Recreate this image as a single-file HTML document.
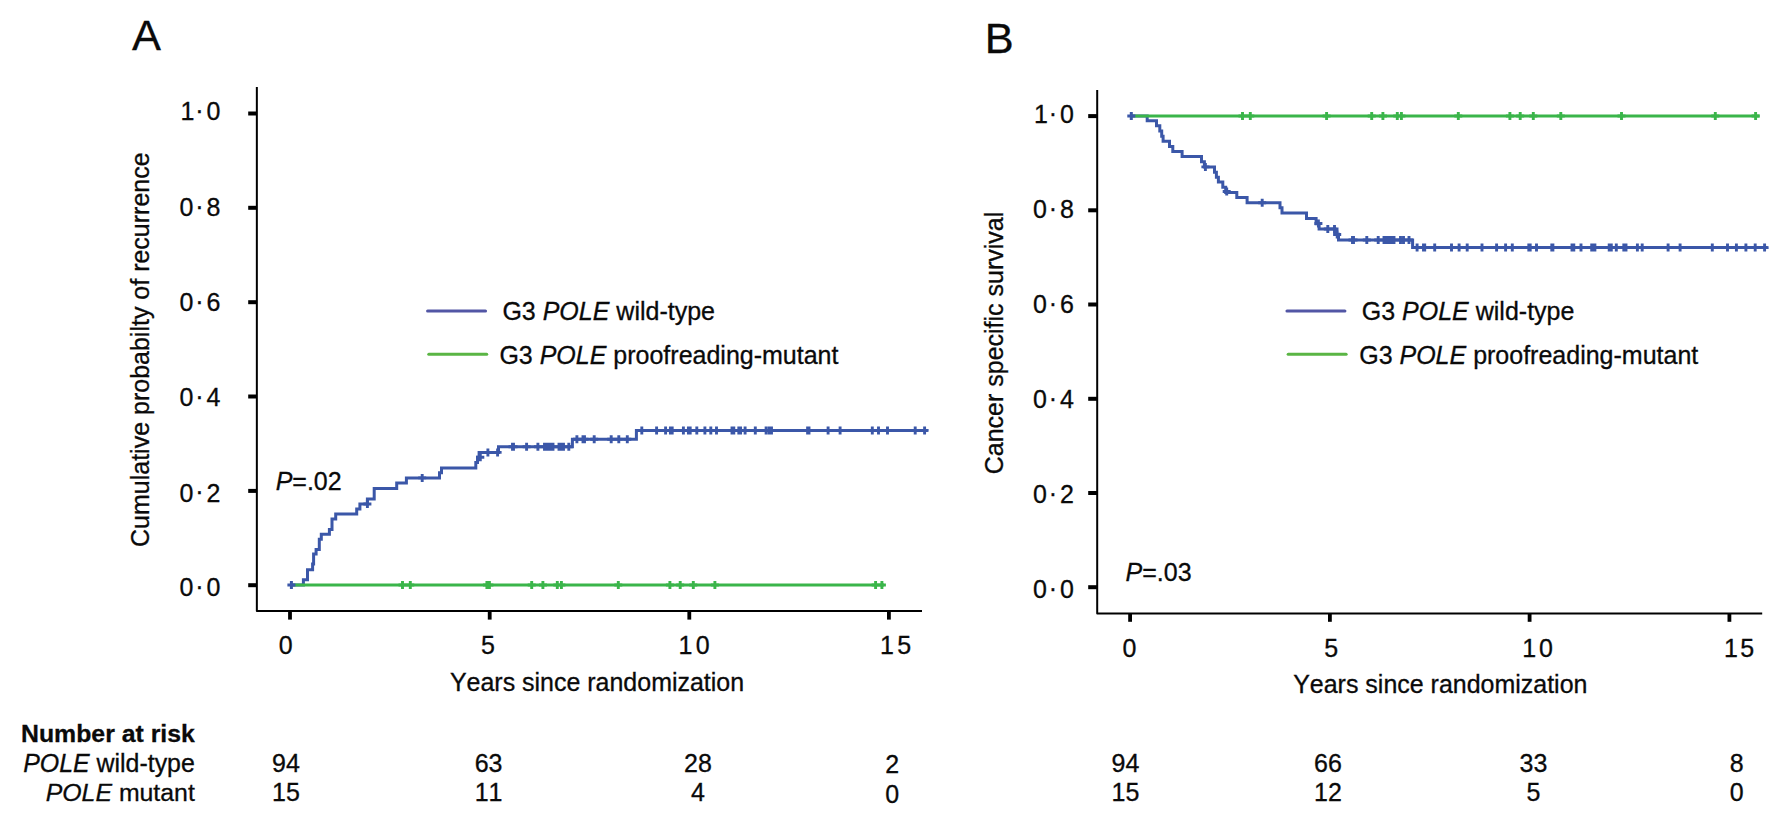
<!DOCTYPE html>
<html lang="en">
<head>
<meta charset="utf-8">
<title>Figure: POLE wild-type vs proofreading-mutant</title>
<style>
html,body{margin:0;padding:0;background:#fff;}
body{width:1791px;height:825px;overflow:hidden;}
svg{display:block;}
svg text{font-family:"Liberation Sans",Arial,Helvetica,sans-serif;fill:#0a0a0a;stroke:#0a0a0a;stroke-width:0.3px;white-space:pre;font-kerning:none;}
</style>
</head>
<body>
<svg width="1791" height="825" viewBox="0 0 1791 825">
<rect width="1791" height="825" fill="#fff"/>
<path d="M256.85,87.1V611.0H922.0" stroke="#000" stroke-width="2" fill="none" stroke-linejoin="round"/>
<rect x="248.2" y="583.2" width="8.8" height="4" fill="#000"/>
<rect x="248.2" y="488.9" width="8.8" height="4" fill="#000"/>
<rect x="248.2" y="394.5" width="8.8" height="4" fill="#000"/>
<rect x="248.2" y="300.2" width="8.8" height="4" fill="#000"/>
<rect x="248.2" y="205.8" width="8.8" height="4" fill="#000"/>
<rect x="248.2" y="111.5" width="8.8" height="4" fill="#000"/>
<rect x="288.1" y="611" width="3.8" height="8.6" fill="#000"/>
<rect x="487.8" y="611" width="3.8" height="8.6" fill="#000"/>
<rect x="687.4" y="611" width="3.8" height="8.6" fill="#000"/>
<rect x="887.0" y="611" width="3.8" height="8.6" fill="#000"/>
<path d="M1097.2,90.1V613.5H1762.2" stroke="#000" stroke-width="2" fill="none" stroke-linejoin="round"/>
<rect x="1088.2" y="585.2" width="9" height="4" fill="#000"/>
<rect x="1088.2" y="491.0" width="9" height="4" fill="#000"/>
<rect x="1088.2" y="396.8" width="9" height="4" fill="#000"/>
<rect x="1088.2" y="302.5" width="9" height="4" fill="#000"/>
<rect x="1088.2" y="208.3" width="9" height="4" fill="#000"/>
<rect x="1088.2" y="114.1" width="9" height="4" fill="#000"/>
<rect x="1128.2" y="613.1" width="3.8" height="8.7" fill="#000"/>
<rect x="1328.0" y="613.1" width="3.8" height="8.7" fill="#000"/>
<rect x="1527.7" y="613.1" width="3.8" height="8.7" fill="#000"/>
<rect x="1727.5" y="613.1" width="3.8" height="8.7" fill="#000"/>
<path d="M402.5,581.0V589.0M398.5,585.0H406.5M410.3,581.0V589.0M406.3,585.0H414.3M486.9,581.0V589.0M482.9,585.0H490.9M489.4,581.0V589.0M485.4,585.0H493.4M531.7,581.0V589.0M527.7,585.0H535.7M542.9,581.0V589.0M538.9,585.0H546.9M557.3,581.0V589.0M553.3,585.0H561.3M561.4,581.0V589.0M557.4,585.0H565.4M618.3,581.0V589.0M614.3,585.0H622.3M669.9,581.0V589.0M665.9,585.0H673.9M680.2,581.0V589.0M676.2,585.0H684.2M693.3,581.0V589.0M689.3,585.0H697.3M714.9,581.0V589.0M710.9,585.0H718.9M875.6,581.0V589.0M871.6,585.0H879.6M881.9,581.0V589.0M877.9,585.0H885.9" stroke="#3ab54a" stroke-width="2.9" fill="none"/>
<path d="M291,585H303.4V579.8H307.5V569.7H312.6V563.9H313.6V554.1H316.1V549.5H319.3V539.2H321.3V534.3H329.4V529.4H332V519H335.7V514.1H356.7V509H359.9V504H367.4V499H374.2V488.5H396.7V483H406.4V477.9H439.5V472.7H441.5V467.9H475.8V462.4H477.5V457.2H479.1V452.4H498.5V446.7H572.4V439.2H636.4V430.4H927.8" stroke="#3b57a8" stroke-width="3" fill="none" stroke-linejoin="miter"/>
<path d="M367.4,500.0V508.0M363.4,504.0H371.4M422.2,473.9V481.9M418.2,477.9H426.2M480.3,453.2V461.2M476.3,457.2H484.3M487.9,448.4V456.4M483.9,452.4H491.9M497.6,448.4V456.4M493.6,452.4H501.6M512.5,442.7V450.7M508.5,446.7H516.5M513.5,442.7V450.7M509.5,446.7H517.5M526.6,442.7V450.7M522.6,446.7H530.6M537.9,442.7V450.7M533.9,446.7H541.9M544.5,442.7V450.7M540.5,446.7H548.5M546.5,442.7V450.7M542.5,446.7H550.5M548.5,442.7V450.7M544.5,446.7H552.5M551.0,442.7V450.7M547.0,446.7H555.0M553.0,442.7V450.7M549.0,446.7H557.0M559.0,442.7V450.7M555.0,446.7H563.0M561.0,442.7V450.7M557.0,446.7H565.0M563.5,442.7V450.7M559.5,446.7H567.5M568.8,442.7V450.7M564.8,446.7H572.8M576.9,435.2V443.2M572.9,439.2H580.9M583.0,435.2V443.2M579.0,439.2H587.0M584.5,435.2V443.2M580.5,439.2H588.5M594.2,435.2V443.2M590.2,439.2H598.2M611.2,435.2V443.2M607.2,439.2H615.2M618.8,435.2V443.2M614.8,439.2H622.8M627.3,435.2V443.2M623.3,439.2H631.3M641.8,426.4V434.4M637.8,430.4H645.8M656.6,426.4V434.4M652.6,430.4H660.6M665.6,426.4V434.4M661.6,430.4H669.6M670.4,426.4V434.4M666.4,430.4H674.4M672.2,426.4V434.4M668.2,430.4H676.2M683.4,426.4V434.4M679.4,430.4H687.4M688.4,426.4V434.4M684.4,430.4H692.4M690.2,426.4V434.4M686.2,430.4H694.2M696.8,426.4V434.4M692.8,430.4H700.8M704.9,426.4V434.4M700.9,430.4H708.9M710.8,426.4V434.4M706.8,430.4H714.8M716.5,426.4V434.4M712.5,430.4H720.5M732.0,426.4V434.4M728.0,430.4H736.0M733.8,426.4V434.4M729.8,430.4H737.8M738.8,426.4V434.4M734.8,430.4H742.8M740.6,426.4V434.4M736.6,430.4H744.6M745.1,426.4V434.4M741.1,430.4H749.1M755.3,426.4V434.4M751.3,430.4H759.3M766.1,426.4V434.4M762.1,430.4H770.1M769.2,426.4V434.4M765.2,430.4H773.2M771.5,426.4V434.4M767.5,430.4H775.5M807.6,426.4V434.4M803.6,430.4H811.6M809.0,426.4V434.4M805.0,430.4H813.0M828.1,426.4V434.4M824.1,430.4H832.1M840.1,426.4V434.4M836.1,430.4H844.1M872.3,426.4V434.4M868.3,430.4H876.3M878.5,426.4V434.4M874.5,430.4H882.5M887.5,426.4V434.4M883.5,430.4H891.5M915.2,426.4V434.4M911.2,430.4H919.2M924.6,426.4V434.4M920.6,430.4H928.6" stroke="#3b57a8" stroke-width="2.9" fill="none"/>
<path d="M291,585H884" stroke="#3ab54a" stroke-width="3" fill="none"/>
<path d="M291.4,581.0V589.0M287.4,585.0H295.4" stroke="#3b57a8" stroke-width="3" fill="none"/>
<path d="M1131.3,116H1147.2V120.8H1156.5V125.8H1159.8V131H1161.7V136.3H1163.1V141.3H1169.5V146.6H1172.8V151.4H1182.1V156.6H1201.5V161.7H1204.4V166.9H1214.5V172.2H1216.4V177.2H1218.4V182.1H1222.8V187.3H1225.7V192.5H1236.8V197.6H1247.1V202.8H1280V207.7H1282V212.9H1306.5V218.4H1316.1V223.7H1319.1V229H1335V234.2H1338.5V240H1412.6V247.6H1767.7" stroke="#3b57a8" stroke-width="3" fill="none" stroke-linejoin="miter"/>
<path d="M1205.4,162.9V170.9M1201.4,166.9H1209.4M1226.7,187.5V195.5M1222.7,191.5H1230.7M1262.2,198.8V206.8M1258.2,202.8H1266.2M1318.4,219.5V227.5M1314.4,223.5H1322.4M1327.8,225.0V233.0M1323.8,229.0H1331.8M1334.5,225.0V233.0M1330.5,229.0H1338.5M1337.2,230.5V238.5M1333.2,234.5H1341.2M1352.5,236.0V244.0M1348.5,240.0H1356.5M1353.5,236.0V244.0M1349.5,240.0H1357.5M1366.8,236.0V244.0M1362.8,240.0H1370.8M1378.2,236.0V244.0M1374.2,240.0H1382.2M1384.0,236.0V244.0M1380.0,240.0H1388.0M1386.5,236.0V244.0M1382.5,240.0H1390.5M1389.0,236.0V244.0M1385.0,240.0H1393.0M1391.5,236.0V244.0M1387.5,240.0H1395.5M1394.0,236.0V244.0M1390.0,240.0H1398.0M1400.5,236.0V244.0M1396.5,240.0H1404.5M1403.5,236.0V244.0M1399.5,240.0H1407.5M1409.0,236.0V244.0M1405.0,240.0H1413.0M1417.1,243.6V251.6M1413.1,247.6H1421.1M1423.5,243.6V251.6M1419.5,247.6H1427.5M1424.7,243.6V251.6M1420.7,247.6H1428.7M1434.7,243.6V251.6M1430.7,247.6H1438.7M1451.5,243.6V251.6M1447.5,247.6H1455.5M1459.1,243.6V251.6M1455.1,247.6H1463.1M1467.2,243.6V251.6M1463.2,247.6H1471.2M1482.0,243.6V251.6M1478.0,247.6H1486.0M1496.6,243.6V251.6M1492.6,247.6H1500.6M1505.6,243.6V251.6M1501.6,247.6H1509.6M1512.3,243.6V251.6M1508.3,247.6H1516.3M1528.8,243.6V251.6M1524.8,247.6H1532.8M1530.2,243.6V251.6M1526.2,247.6H1534.2M1536.5,243.6V251.6M1532.5,247.6H1540.5M1551.8,243.6V251.6M1547.8,247.6H1555.8M1552.9,243.6V251.6M1548.9,247.6H1556.9M1572.0,243.6V251.6M1568.0,247.6H1576.0M1573.8,243.6V251.6M1569.8,247.6H1577.8M1581.0,243.6V251.6M1577.0,247.6H1585.0M1591.7,243.6V251.6M1587.7,247.6H1595.7M1593.3,243.6V251.6M1589.3,247.6H1597.3M1594.9,243.6V251.6M1590.9,247.6H1598.9M1609.2,243.6V251.6M1605.2,247.6H1613.2M1611.3,243.6V251.6M1607.3,247.6H1615.3M1616.3,243.6V251.6M1612.3,247.6H1620.3M1623.8,243.6V251.6M1619.8,247.6H1627.8M1626.0,243.6V251.6M1622.0,247.6H1630.0M1637.4,243.6V251.6M1633.4,247.6H1641.4M1642.2,243.6V251.6M1638.2,247.6H1646.2M1668.1,243.6V251.6M1664.1,247.6H1672.1M1680.1,243.6V251.6M1676.1,247.6H1684.1M1712.3,243.6V251.6M1708.3,247.6H1716.3M1727.5,243.6V251.6M1723.5,247.6H1731.5M1736.4,243.6V251.6M1732.4,247.6H1740.4M1745.9,243.6V251.6M1741.9,247.6H1749.9M1755.2,243.6V251.6M1751.2,247.6H1759.2M1764.6,243.6V251.6M1760.6,247.6H1768.6" stroke="#3b57a8" stroke-width="2.9" fill="none"/>
<path d="M1131.3,116H1759.6" stroke="#3ab54a" stroke-width="3" fill="none"/>
<path d="M1242.5,112.0V120.0M1238.5,116.0H1246.5M1250.3,112.0V120.0M1246.3,116.0H1254.3M1326.6,112.0V120.0M1322.6,116.0H1330.6M1371.7,112.0V120.0M1367.7,116.0H1375.7M1382.9,112.0V120.0M1378.9,116.0H1386.9M1397.3,112.0V120.0M1393.3,116.0H1401.3M1401.4,112.0V120.0M1397.4,116.0H1405.4M1458.3,112.0V120.0M1454.3,116.0H1462.3M1509.9,112.0V120.0M1505.9,116.0H1513.9M1520.2,112.0V120.0M1516.2,116.0H1524.2M1533.3,112.0V120.0M1529.3,116.0H1537.3M1560.8,112.0V120.0M1556.8,116.0H1564.8M1621.5,112.0V120.0M1617.5,116.0H1625.5M1715.3,112.0V120.0M1711.3,116.0H1719.3M1755.6,112.0V120.0M1751.6,116.0H1759.6" stroke="#3ab54a" stroke-width="2.9" fill="none"/>
<path d="M1131.3,112.0V120.0M1127.3,116.0H1135.3" stroke="#3b57a8" stroke-width="3" fill="none"/>
<path d="M427.6,311H485.5" stroke="#5256a5" stroke-width="3.1" stroke-linecap="round"/>
<path d="M428.8,354.2H486.7" stroke="#5ab544" stroke-width="3.1" stroke-linecap="round"/>
<path d="M1287.0,311H1344.9" stroke="#5256a5" stroke-width="3.1" stroke-linecap="round"/>
<path d="M1288.2,354.2H1346.1" stroke="#5ab544" stroke-width="3.1" stroke-linecap="round"/>
<text x="502.4" y="319.8" font-size="25" text-anchor="start" >G3 <tspan font-style="italic">POLE</tspan> wild-type</text>
<text x="499.4" y="364" font-size="25" text-anchor="start" >G3 <tspan font-style="italic">POLE</tspan> proofreading-mutant</text>
<text x="1361.8" y="319.8" font-size="25" text-anchor="start" >G3 <tspan font-style="italic">POLE</tspan> wild-type</text>
<text x="1359.2" y="364" font-size="25" text-anchor="start" >G3 <tspan font-style="italic">POLE</tspan> proofreading-mutant</text>
<text x="132.1" y="50" font-size="43.4" text-anchor="start" >A</text>
<text x="984.65" y="52.7" font-size="43.4" text-anchor="start" >B</text>
<text x="179.5 195.3 206.5" y="596.0 594.8 596.0" font-size="25">0·0</text>
<text x="179.5 195.3 206.5" y="501.5 500.3 501.5" font-size="25">0·2</text>
<text x="179.5 195.3 206.5" y="406.4 405.2 406.4" font-size="25">0·4</text>
<text x="179.5 195.3 206.5" y="311.2 310.1 311.2" font-size="25">0·6</text>
<text x="179.5 195.3 206.5" y="216.1 214.9 216.1" font-size="25">0·8</text>
<text x="180.6 195.3 206.5" y="120.4 119.2 120.4" font-size="25">1·0</text>
<text x="1033.0 1048.8 1060.0" y="597.7 596.5 597.7" font-size="25">0·0</text>
<text x="1033.0 1048.8 1060.0" y="502.7 501.5 502.7" font-size="25">0·2</text>
<text x="1033.0 1048.8 1060.0" y="407.7 406.5 407.7" font-size="25">0·4</text>
<text x="1033.0 1048.8 1060.0" y="312.7 311.5 312.7" font-size="25">0·6</text>
<text x="1033.0 1048.8 1060.0" y="217.7 216.5 217.7" font-size="25">0·8</text>
<text x="1034.1 1048.8 1060.0" y="122.7 121.5 122.7" font-size="25">1·0</text>
<text x="278.8" y="654.1" font-size="25" text-anchor="start" >0</text>
<text x="480.9" y="654.1" font-size="25" text-anchor="start" >5</text>
<text x="678.5 695.8" y="654.1" font-size="25">10</text>
<text x="880.0 897.3" y="654.1" font-size="25">15</text>
<text x="1122.5" y="657.0" font-size="25" text-anchor="start" >0</text>
<text x="1324.3" y="657.0" font-size="25" text-anchor="start" >5</text>
<text x="1522.3 1539.0" y="657.0" font-size="25">10</text>
<text x="1724.0 1740.3" y="657.0" font-size="25">15</text>
<text x="449.9" y="691.2" font-size="24.98" text-anchor="start" >Years since randomization</text>
<text x="1293.2" y="693.4" font-size="24.98" text-anchor="start" >Years since randomization</text>
<text transform="translate(148.8,547.0) rotate(-90)" font-size="25">Cumulative probabilty of recurrence</text>
<text transform="translate(1002.5,474.3) rotate(-90)" font-size="25">Cancer specific survival</text>
<text x="275.65" y="490" font-size="25" text-anchor="start" ><tspan font-style="italic">P</tspan>=.02</text>
<text x="1125.5" y="580.6" font-size="25" text-anchor="start" ><tspan font-style="italic">P</tspan>=.03</text>
<text x="194.8" y="742" font-size="24.82" text-anchor="end" font-weight="bold">Number at risk</text>
<text x="194.8" y="771.5" font-size="24.92" text-anchor="end" ><tspan font-style="italic">POLE</tspan> wild-type</text>
<text x="194.8" y="801.2" font-size="24.84" text-anchor="end" ><tspan font-style="italic">POLE</tspan> mutant</text>
<text x="286" y="771.5" font-size="25" text-anchor="middle" >94</text>
<text x="286" y="801.2" font-size="25" text-anchor="middle" >15</text>
<text x="488.6" y="771.5" font-size="25" text-anchor="middle" >63</text>
<text x="488.6" y="801.2" font-size="25" text-anchor="middle" >11</text>
<text x="698" y="771.5" font-size="25" text-anchor="middle" >28</text>
<text x="698" y="801.2" font-size="25" text-anchor="middle" >4</text>
<text x="892.3" y="773.0" font-size="25" text-anchor="middle" >2</text>
<text x="892.3" y="802.7" font-size="25" text-anchor="middle" >0</text>
<text x="1125.5" y="771.5" font-size="25" text-anchor="middle" >94</text>
<text x="1125.5" y="801.2" font-size="25" text-anchor="middle" >15</text>
<text x="1328" y="771.5" font-size="25" text-anchor="middle" >66</text>
<text x="1328" y="801.2" font-size="25" text-anchor="middle" >12</text>
<text x="1533.5" y="771.5" font-size="25" text-anchor="middle" >33</text>
<text x="1533.5" y="801.2" font-size="25" text-anchor="middle" >5</text>
<text x="1736.8" y="771.5" font-size="25" text-anchor="middle" >8</text>
<text x="1736.8" y="801.2" font-size="25" text-anchor="middle" >0</text>
</svg>
</body>
</html>
